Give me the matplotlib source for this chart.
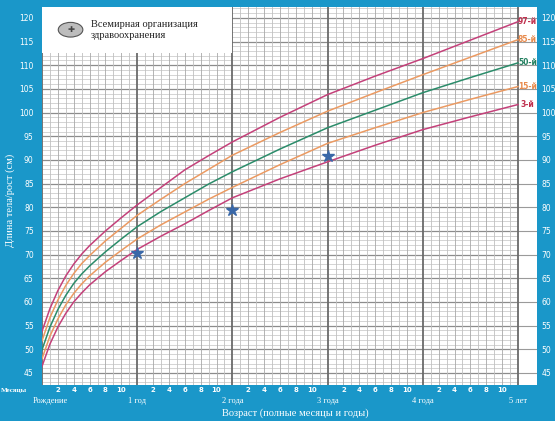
import numpy as np
import matplotlib.pyplot as plt
from matplotlib.patches import Rectangle, Circle

# age in months and percentile curves (cm)
months = [0, 1, 2, 3, 4, 5, 6, 8, 10, 12, 15, 18, 21, 24, 30, 36, 42, 48, 54, 60]
p3 = [46.4, 51.1, 54.7, 57.6, 60.0, 61.9, 63.6, 66.4, 68.8, 71.1, 73.9, 76.5, 79.3, 82.0, 86.0, 89.6, 93.1, 96.4, 99.1, 101.7]
p15 = [48.0, 52.8, 56.4, 59.4, 61.8, 63.8, 65.5, 68.4, 70.9, 73.3, 76.3, 79.0, 81.7, 84.2, 89.0, 93.5, 96.8, 100.0, 102.8, 105.5]
p50 = [49.9, 54.7, 58.4, 61.4, 63.9, 65.9, 67.6, 70.6, 73.3, 75.9, 79.1, 82.0, 84.9, 87.5, 92.3, 96.8, 100.5, 104.2, 107.4, 110.5]
p85 = [51.8, 56.7, 60.4, 63.5, 66.0, 68.1, 69.8, 72.9, 75.6, 78.3, 81.7, 85.0, 88.0, 91.0, 95.8, 100.3, 104.2, 108.0, 111.7, 115.4]
p97 = [53.8, 58.6, 62.4, 65.5, 68.0, 70.1, 71.9, 75.0, 77.8, 80.5, 84.2, 87.9, 90.9, 93.8, 99.0, 103.8, 107.7, 111.4, 115.3, 119.2]

curve_names = ['97-й', '85-й', '50-й', '15-й', '3-й']
curves = [p97, p85, p50, p15, p3]
curve_colors = ['#c4417a', '#eb9a62', '#2b8c6a', '#eb9a62', '#c4417a']
label_colors = ['#c0304e', '#e88a4c', '#238060', '#e88a4c', '#c0304e']

# measured child
child_months = [12, 24, 36]
child_height = [70.4, 79.5, 90.8]

y_ticks = list(range(45, 121, 5))
month_ticks = [2, 4, 6, 8, 10]
year_labels = ['Рождение', '1 год', '2 года', '3 года', '4 года', '5 лет']

blue = '#1a97c9'
fig = plt.figure(figsize=(5.55, 4.21), dpi=100, facecolor=blue)
ax = fig.add_axes([42 / 555, 36 / 421, 495 / 555, 378 / 421])
ax.set_facecolor('white')
ax.set_xlim(0, 62.4)
ax.set_ylim(42.46, 122.3)
for s in ax.spines.values():
    s.set_visible(False)

# grid
for h in range(43, 123):
    major = h % 5 == 0
    ax.hlines(h, 0, 60, color='#8c8c8c' if major else '#c4c4c4',
              lw=0.9 if major else 0.5, zorder=1)
    if major:
        ax.hlines(h, 60, 62.4, color='#9a9a9a', lw=0.8, zorder=1)
for m in range(0, 61):
    if m % 12 == 0:
        ax.axvline(m, color='#6a6a6a', lw=1.3, zorder=2)
    else:
        ax.axvline(m, color='#a8a8a8' if m % 2 == 0 else '#c0c0c0',
                   lw=0.6, zorder=1)

# WHO header box
ax.add_patch(Rectangle((0, 112.6), 24, 10, facecolor='white', edgecolor='none', zorder=3))
ax.add_patch(Circle((3.6, 117.5), 1.55, facecolor='#bdbdbd',
                    edgecolor='#555555', lw=0.8, zorder=4))
ax.text(3.6, 117.5, '✚', ha='center', va='center', fontsize=6, color='#444444', zorder=5)
ax.text(6.2, 117.4, 'Всемирная организация\nздравоохранения', ha='left', va='center',
        fontsize=7.5, family='Liberation Serif', color='#222222', linespacing=1.3, zorder=5)

for vals, c in zip(curves, curve_colors):
    ax.plot(months, vals, color=c, lw=1.1, zorder=5)
for name, vals, c in zip(curve_names, curves, label_colors):
    ax.text(61.2, vals[-1], name, ha='center', va='center', fontsize=5.5,
            family=['Liberation Sans Narrow', 'DejaVu Sans'],
            fontweight='bold', color=c, zorder=6)

ax.plot(child_months, child_height, linestyle='none', marker='*', markersize=9,
        color='#3a68a8', zorder=7)

# axes labels
ax.set_yticks(y_ticks)
ax.set_yticklabels([str(v) for v in y_ticks])
ax.tick_params(axis='y', length=0, labelsize=5.5, labelcolor='white', pad=6)
ax.set_xticks([])
axr = ax.twinx()
axr.set_ylim(ax.get_ylim())
axr.set_yticks(y_ticks)
axr.set_yticklabels([str(v) for v in y_ticks])
axr.tick_params(axis='y', length=0, labelsize=5.5, labelcolor='white', pad=3)
for s in axr.spines.values():
    s.set_visible(False)

for yr in range(5):
    for mt in month_ticks:
        ax.text(yr * 12 + mt, 41.4, str(mt), ha='center', va='center', fontsize=5,
                color='white', fontweight='bold')
for i, lab in enumerate(year_labels):
    x = i * 12 if i > 0 else 1.1
    ax.text(x, 39.0, lab, ha='center', va='center', fontsize=6,
            family='Liberation Serif', color='white')
ax.text(-3.5, 41.4, 'Месяцы', ha='center', va='center', fontsize=5,
        family='Liberation Serif', color='white', fontweight='bold')
ax.text(31.9, 36.4, 'Возраст (полные месяцы и годы)', ha='center', va='center',
        fontsize=7.5, family='Liberation Serif', color='white')
fig.text(10 / 555, 1 - 200 / 421, 'Длина тела/рост (см)', rotation=90, ha='center',
         va='center', fontsize=7.5, family='Liberation Serif', color='white')

fig.savefig('out.png', dpi=100, facecolor=blue)
